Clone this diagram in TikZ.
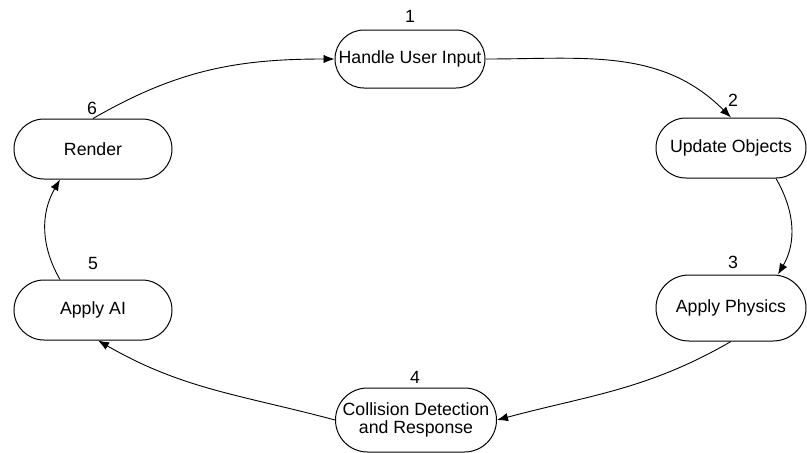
\documentclass[tikz,border=0pt]{standalone}
\usepackage{fontspec}
\setmainfont{Liberation Sans}
\usetikzlibrary{positioning, arrows.meta, calc, shapes.misc}

\begin{document}
\begin{tikzpicture}[
    x=1pt, y=-1pt,
    >={Latex[length=11pt, width=8.5pt]}, % gefüllte Pfeilspitzen
    font={\fontsize{17.7}{18}\selectfont},
    stage/.style={draw, rounded rectangle, line width=1pt, minimum width=152pt, minimum height=60pt, inner sep=1pt, align=center},
    num/.style={inner sep=0pt},
    flow/.style={->, line width=0.9pt}
]
\useasboundingbox (0,0) rectangle (807,453);

% 1. Die sechs Stationen der Schleife
\node[stage, minimum height=58pt] (input) at (410,59) {Handle User Input};
\node[stage] (update)  at (731,148) {Update Objects};
\node[stage, minimum height=66pt] (physics) at (731,308) {Apply Physics};
\node[stage, minimum width=163pt, minimum height=64pt] (collide) at (416,420) {Collision Detection\\and Response};
\node[stage, minimum width=160pt] (ai)     at (93,310) {Apply AI};
\node[stage, minimum width=160pt] (render) at (93,149) {Render};

% 2. Nummern über den Boxen
\node[num] (n1) at (410,16)  {1};
\node[num] (n2) at (733,100) {2};
\node[num] (n3) at (733,262) {3};
\node[num] (n4) at (415,377) {4};
\node[num] (n5) at (93,263)  {5};
\node[num] (n6) at (92,108)  {6};

% --- Pfeile im Uhrzeigersinn ---
\draw[flow] (render.north) to[out=30, in=180] (input.west);
\draw[flow] (input.east) to[out=0, in=135] (update.north);
\draw[flow] ($(update.south)+(45,0)$) to[out=-60, in=60] ($(physics.north)+(47,0)$);
\draw[flow] (physics.south) to[out=-150, in=15] (collide.east);
\draw[flow] (collide.west) to[out=165, in=-30] ($(ai.south)+(5,0)$);
\draw[flow] ($(ai.north)+(-33,0)$) to[out=120, in=-120] ($(render.south)+(-33,0)$);

\end{tikzpicture}
\end{document}
